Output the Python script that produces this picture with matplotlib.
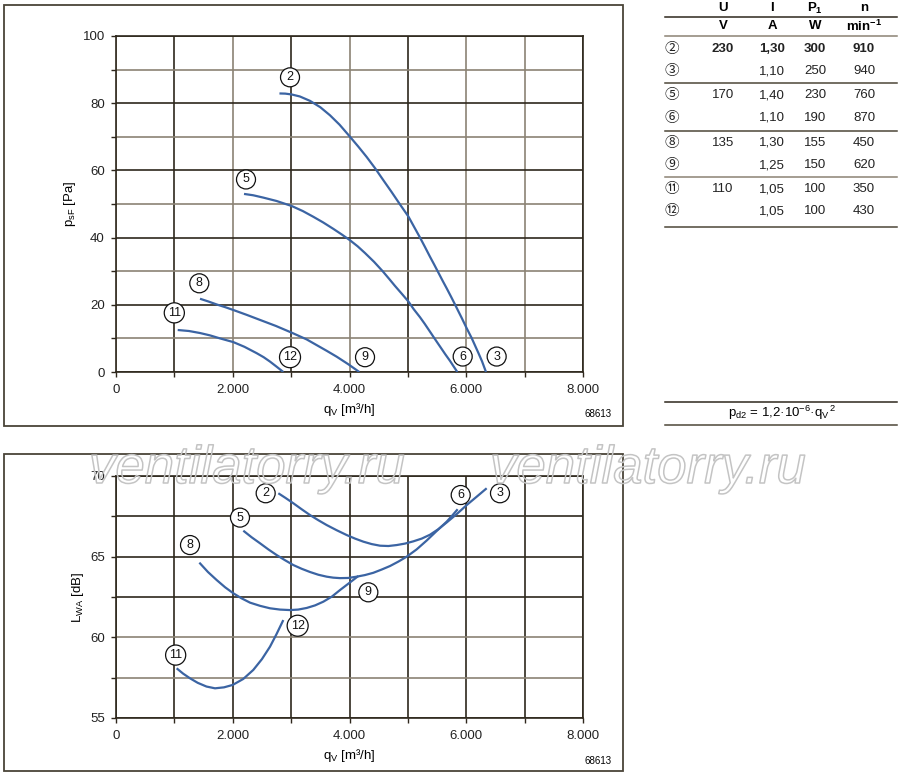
import matplotlib
matplotlib.use("Agg")
import matplotlib.pyplot as plt
import matplotlib.patheffects as pe
from matplotlib.patches import Rectangle
from matplotlib.lines import Line2D

plt.rcParams['font.family'] = ['Liberation Sans', 'Noto Sans CJK JP', 'DejaVu Sans']
plt.rcParams['mathtext.fontset'] = 'custom'
plt.rcParams['mathtext.rm'] = 'Liberation Sans'
plt.rcParams['mathtext.it'] = 'Liberation Sans:italic'
plt.rcParams['mathtext.bf'] = 'Liberation Sans:bold'

# ---- pressure curves (q_V in m3/h, p_sF in Pa)
p_q2 = [2800, 2900, 3010, 3150, 3323, 3500, 3666, 3830, 4009, 4150, 4294, 4440, 4579, 4720, 4860, 5008,
        5100, 5208, 5290, 5379, 5450, 5522, 5600, 5665, 5740, 5807, 5870, 5922, 6008, 6093, 6150, 6207,
        6270, 6338]
p_p2 = [82.9, 82.85, 82.6, 82.0, 80.7, 78.8, 76.4, 73.6, 70.0, 67.1, 64.0, 60.6, 57.1, 53.6, 50.0, 46.3,
        43.4, 40.0, 37.3, 34.3, 32.0, 29.6, 27.0, 24.9, 22.4, 20.1, 17.9, 16.1, 13.0, 10.1, 7.9, 5.7,
        3.2, 0]
p_q5 = [2193, 2350, 2524, 2750, 3010, 3200, 3380, 3550, 3723, 3870, 4009, 4140, 4266, 4420, 4568, 4680,
        4780, 4900, 5008, 5100, 5208, 5290, 5379, 5460, 5550, 5640, 5722, 5790, 5847]
p_p5 = [53.0, 52.6, 51.9, 50.9, 49.4, 47.9, 46.2, 44.5, 42.6, 40.9, 39.2, 37.4, 35.4, 32.8, 30.0, 27.7,
        25.6, 23.2, 21.0, 18.7, 16.3, 14.3, 12.0, 9.9, 7.6, 5.3, 3.3, 1.5, 0]
p_q8 = [1439, 1580, 1725, 1870, 2010, 2240, 2467, 2740, 3010, 3266, 3438, 3610, 3781, 3980, 4168]
p_p8 = [21.8, 21.0, 20.1, 19.3, 18.45, 17.0, 15.5, 13.7, 11.7, 9.7, 8.0, 6.3, 4.55, 2.3, 0]
p_q11 = [1057, 1250, 1439, 1610, 1782, 2010, 2200, 2410, 2530, 2638, 2750, 2866]
p_p11 = [12.5, 12.2, 11.6, 10.9, 10.0, 8.9, 7.5, 5.6, 4.4, 3.1, 1.6, 0]

# ---- sound power curves (q_V in m3/h, L_WA in dB)
s_q2 = [2781, 2900, 3038, 3180, 3323, 3466, 3609, 3780, 3952, 4095, 4237, 4380, 4523, 4666, 4809, 4950,
        5094, 5237, 5379, 5520, 5665, 5840, 6008, 6180, 6350]
s_l2 = [68.93, 68.65, 68.31, 67.94, 67.58, 67.26, 66.96, 66.64, 66.34, 66.12, 65.93, 65.78, 65.68, 65.66,
        65.72, 65.81, 65.95, 66.12, 66.36, 66.7, 67.12, 67.65, 68.2, 68.72, 69.24]
s_q5 = [2181, 2324, 2467, 2610, 2752, 2895, 3038, 3180, 3323, 3466, 3609, 3720, 3837, 3980, 4123, 4265,
        4408, 4550, 4694, 4840, 4980, 5150, 5322, 5490, 5665, 5760, 5853]
s_l5 = [66.61, 66.2, 65.83, 65.45, 65.1, 64.78, 64.48, 64.25, 64.05, 63.88, 63.76, 63.7, 63.67, 63.68,
        63.76, 63.86, 64.0, 64.2, 64.42, 64.7, 65.0, 65.45, 66.0, 66.58, 67.17, 67.55, 67.94]
s_q8 = [1428, 1575, 1725, 1870, 2010, 2150, 2296, 2470, 2638, 2810, 2981, 3120, 3266, 3410, 3552, 3700,
        3837, 4000, 4151]
s_l8 = [64.63, 64.05, 63.55, 63.1, 62.73, 62.42, 62.15, 61.95, 61.8, 61.72, 61.69, 61.72, 61.82, 61.98,
        62.21, 62.53, 62.93, 63.38, 63.8]
s_q11 = [1039, 1150, 1268, 1400, 1550, 1696, 1850, 1999, 2180, 2352, 2500, 2638, 2750, 2866]
s_l11 = [58.08, 57.75, 57.46, 57.18, 56.95, 56.84, 56.9, 57.05, 57.42, 57.98, 58.65, 59.42, 60.2, 61.07]

# ---- curve labels
p_lab = ['2', '5', '8', '11', '12', '9', '6', '3']
p_lab_q = [2981, 2227, 1427, 999, 2981, 4266, 5939, 6521]
p_lab_p = [87.7, 57.3, 26.4, 17.6, 4.4, 4.4, 4.6, 4.6]
s_lab = ['2', '5', '8', '11', '12', '9', '6', '3']
s_lab_q = [2564, 2124, 1268, 1022, 3112, 4323, 5905, 6578]
s_lab_l = [68.93, 67.42, 65.72, 58.9, 60.72, 62.79, 68.82, 68.93]

x_ticks = [0, 1000, 2000, 3000, 4000, 5000, 6000, 7000, 8000]
x_tick_labels = ['0', '', '2.000', '', '4.000', '', '6.000', '', '8.000']
p_ticks = [0, 10, 20, 30, 40, 50, 60, 70, 80, 90, 100]
p_tick_labels = ['0', '', '20', '', '40', '', '60', '', '80', '', '100']
s_ticks = [55, 57.5, 60, 62.5, 65, 67.5, 70]
s_tick_labels = ['55', '', '60', '', '65', '', '70']

# ---- table
tab_marks = ['②', '③', '⑤', '⑥', '⑧', '⑨', '⑪', '⑫']
tab_u = ['230', '', '170', '', '135', '', '110', '']
tab_i = ['1,30', '1,10', '1,40', '1,10', '1,30', '1,25', '1,05', '1,05']
tab_p = ['300', '250', '230', '190', '155', '150', '100', '100']
tab_n = ['910', '940', '760', '870', '450', '620', '350', '430']

W, H = 900, 776
BLUE = '#3b64a3'
DARK = '#2e271c'
LIGHT = '#8b8374'


def fx(x):
    return x / W


def fy(y):
    return 1 - y / H


fig = plt.figure(figsize=(9, 7.76), dpi=100)
fig.patch.set_facecolor('white')

# outer frames
for (x0, y0, x1, y1) in [(4, 5, 623, 426), (4, 454, 623, 771)]:
    fig.add_artist(Rectangle((fx(x0), fy(y1)), fx(x1) - fx(x0), fy(y0) - fy(y1),
                             transform=fig.transFigure, fill=False, ec='#4a4438', lw=1.3))


def setup(ax, yticks, ylabels, ylim, dark_x, dark_y):
    ax.set_xlim(0, 8000)
    ax.set_ylim(*ylim)
    ax.set_xticks(x_ticks)
    ax.set_xticklabels(x_tick_labels)
    ax.set_yticks(yticks)
    ax.set_yticklabels(ylabels)
    ax.grid(True, lw=1.2)
    for v, gl in zip(x_ticks, ax.get_xgridlines()):
        gl.set_color(DARK if v in dark_x else LIGHT)
    for v, gl in zip(yticks, ax.get_ygridlines()):
        gl.set_color(DARK if v in dark_y else LIGHT)
    ax.set_axisbelow(True)
    for s in ax.spines.values():
        s.set_color(DARK)
        s.set_linewidth(1.2)
    ax.tick_params(direction='out', length=3.5, width=1, color=DARK, labelsize=9.5,
                   labelcolor='#222222')
    ax.tick_params(axis='y', pad=4.5)
    ax.tick_params(axis='x', pad=5)


def circ(ax, x, y, t):
    ax.text(x, y, t, ha='center', va='center', fontsize=9, color='#111111', zorder=5,
            bbox=dict(boxstyle='circle,pad=0.28', fc='white', ec='#111111', lw=0.9))


# ---- top chart
ax1 = fig.add_axes([fx(116), fy(372), fx(583) - fx(116), fy(36) - fy(372)])
setup(ax1, p_ticks, p_tick_labels, (0, 100), [1000, 3000, 5000, 8000], [0, 20, 40, 60, 80, 100])
for q, p in [(p_q2, p_p2), (p_q5, p_p5), (p_q8, p_p8), (p_q11, p_p11)]:
    ax1.plot(q, p, color=BLUE, lw=1.6, solid_capstyle='butt', zorder=3)
for t, q, p in zip(p_lab, p_lab_q, p_lab_p):
    circ(ax1, q, p, t)
ax1.set_xlabel(r'$\mathregular{q_V}$ [m³/h]', fontsize=9.5, labelpad=4)
ax1.set_ylabel(r'$\mathregular{p_{sF}}$ [Pa]', fontsize=9.5, labelpad=3)
fig.text(fx(612), fy(414), '68613', ha='right', va='center', fontsize=7)

# ---- bottom chart
ax2 = fig.add_axes([fx(116), fy(718), fx(583) - fx(116), fy(476) - fy(718)])
setup(ax2, s_ticks, s_tick_labels, (55, 70), x_ticks, [55, 62.5, 65, 67.5, 70])
for q, l in [(s_q2, s_l2), (s_q5, s_l5), (s_q8, s_l8), (s_q11, s_l11)]:
    ax2.plot(q, l, color=BLUE, lw=1.6, solid_capstyle='butt', zorder=3)
for t, q, l in zip(s_lab, s_lab_q, s_lab_l):
    circ(ax2, q, l, t)
ax2.set_xlabel(r'$\mathregular{q_V}$ [m³/h]', fontsize=9.5, labelpad=4)
ax2.set_ylabel(r'$\mathregular{L_{WA}}$ [dB]', fontsize=9.5, labelpad=3)
fig.text(fx(612), fy(761), '68613', ha='right', va='center', fontsize=7)

# ---- table
cols = [723, 772, 815, 864]
for x, t in zip(cols, ['U', 'I', r'$\mathbf{P_1}$', 'n']):
    fig.text(fx(x), fy(8), t, ha='center', va='center', fontsize=9.5, fontweight='bold')
for x, t in zip(cols, ['V', 'A', 'W', r'$\mathbf{min^{-1}}$']):
    fig.text(fx(x), fy(26), t, ha='center', va='center', fontsize=9.5, fontweight='bold')
row_y = [49, 71, 95.5, 118, 142.5, 165, 189, 211.5]
for i, y in enumerate(row_y):
    w = 'bold' if i == 0 else 'normal'
    fig.text(fx(672), fy(y), tab_marks[i], ha='center', va='center', fontsize=10.5,
             family=['Noto Sans CJK JP', 'DejaVu Sans'], color='#222222')
    for x, col in zip(cols, [tab_u, tab_i, tab_p, tab_n]):
        fig.text(fx(x), fy(y), col[i], ha='center', va='center', fontsize=9.5,
                 fontweight=w, color='#222222')
for y, c in [(17, DARK), (35.5, LIGHT), (83, '#4d4638'), (131, '#4d4638'), (177, LIGHT), (226.5, '#4d4638'),
             (402, DARK), (425, '#4d4638')]:
    fig.add_artist(Line2D([fx(665), fx(897)], [fy(y), fy(y)], transform=fig.transFigure,
                          color=c, lw=1.1))
fig.text(fx(782), fy(413), r'$\mathrm{p_{d2}}$ = 1,2·10$^{-6}$·$\mathrm{q_V}^{\,2}$',
         ha='center', va='center', fontsize=9.5)

# ---- watermark (outline only)
for x in [89, 490]:
    fig.text(fx(x), fy(483), 'ventilatorry.ru', ha='left', va='baseline', fontsize=38,
             style='italic', family='Liberation Sans', color=(1, 1, 1, 0), zorder=10,
             path_effects=[pe.Stroke(linewidth=1.1, foreground='#c4c4c4')])

fig.savefig('out.png', dpi=100)
